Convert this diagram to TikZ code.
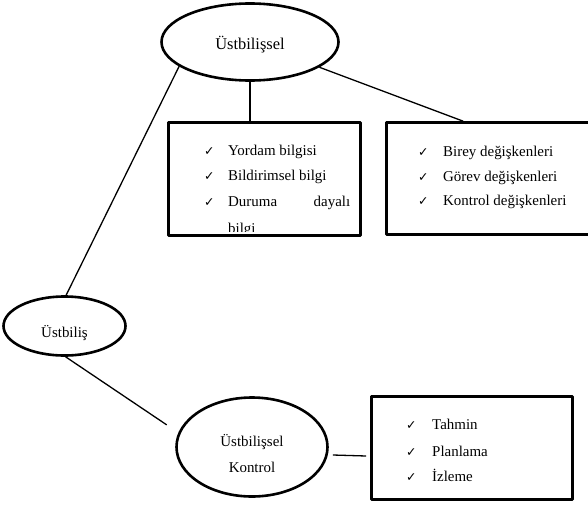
\documentclass[tikz,border=0pt]{standalone}
\usepackage{fontspec}
\setmainfont{Liberation Serif}
\newfontfamily\checkfont{DejaVu Sans}
\usetikzlibrary{shapes.geometric}
\newcommand{\tickmark}{{\checkfont\bfseries\fontsize{12.5}{13}\selectfont ✓}}

\begin{document}
\begin{tikzpicture}[line join=bevel,
  oval/.style={draw,ellipse,line width=2.6bp,inner sep=0pt},
  panel/.style={draw,rectangle,line width=2.6bp,inner sep=0pt},
  label/.style={anchor=base,inner sep=0pt,font=\fontsize{15}{18}\selectfont},
  item/.style={anchor=base west,inner sep=0pt,font=\fontsize{15}{18}\selectfont},
  tick/.style={anchor=base west,inner sep=0pt},
  link/.style={black,line width=1.3bp}]
%%
\useasboundingbox (0bp,0bp) rectangle (588bp,-520bp);
\node (node_top) at (250bp,-42bp) [oval,minimum width=177bp,minimum height=77bp] {};
  \node (node_top_text) at (250bp,-49bp) [label,font=\fontsize{16.5}{20}\selectfont] {Üstbilişsel};
  \node (node_ustbilis) at (64.5bp,-326bp) [oval,minimum width=122bp,minimum height=59bp] {};
  \node (node_ustbilis_text) at (64.5bp,-337bp) [label] {Üstbiliş};
  \node (node_kontrol) at (252bp,-447bp) [oval,minimum width=151bp,minimum height=99bp] {};
  \node (node_kontrol_text1) at (252bp,-446bp) [label] {Üstbilişsel};
  \node (node_kontrol_text2) at (252bp,-472bp) [label] {Kontrol};
%
  \node (node_box1) at (264.5bp,-179bp) [panel,minimum width=192bp,minimum height=113bp] {};
  \node (node_box2) at (489.25bp,-178.5bp) [panel,minimum width=205.5bp,minimum height=112bp] {};
  \node (node_box3) at (472bp,-448bp) [panel,minimum width=201bp,minimum height=103bp] {};
%
  \node (node_t1) at (204bp,-155bp) [tick] {\tickmark};
  \node (node_i1) at (228bp,-155bp) [item] {Yordam bilgisi};
  \node (node_t2) at (204bp,-180bp) [tick] {\tickmark};
  \node (node_i2) at (228bp,-180bp) [item] {Bildirimsel bilgi};
  \node (node_t3) at (204bp,-206bp) [tick] {\tickmark};
  \node (node_i3) at (228bp,-206bp) [item,text width=122bp] {Duruma\hfill dayalı};
  \begin{scope}
  \clip (167bp,-121bp) rectangle (362bp,-231.5bp);
  \node (node_i4) at (228bp,-233.5bp) [item] {bilgi};
  \end{scope}
%
  \node (node_t5) at (418bp,-156bp) [tick] {\tickmark};
  \node (node_i5) at (443bp,-156bp) [item] {Birey değişkenleri};
  \node (node_t6) at (418bp,-181bp) [tick] {\tickmark};
  \node (node_i6) at (443bp,-181bp) [item] {Görev değişkenleri};
  \node (node_t7) at (418bp,-205bp) [tick] {\tickmark};
  \node (node_i7) at (443bp,-205bp) [item] {Kontrol değişkenleri};
%
  \node (node_t8) at (406bp,-429bp) [tick] {\tickmark};
  \node (node_i8) at (432bp,-429bp) [item] {Tahmin};
  \node (node_t9) at (406bp,-456bp) [tick] {\tickmark};
  \node (node_i9) at (432bp,-456bp) [item] {Planlama};
  \node (node_t10) at (406bp,-481bp) [tick] {\tickmark};
  \node (node_i10) at (432bp,-481bp) [item] {İzleme};
%
  \draw [link] (node_top.199) -- (node_ustbilis.87);
  \draw [link] (node_top.south) -- (node_top.south |- node_box1.north);
  \draw [link] (node_top.340) -- ([xshift=78bp]node_box2.north west);
  \draw [link,shorten >=14bp] (node_ustbilis.272) -- (node_kontrol.169);
  \draw [link] ([shift={(4bp,-8bp)}]node_kontrol.east) -- ([shift={(-4bp,-8bp)}]node_box3.west);
%
\end{tikzpicture}
\end{document}
